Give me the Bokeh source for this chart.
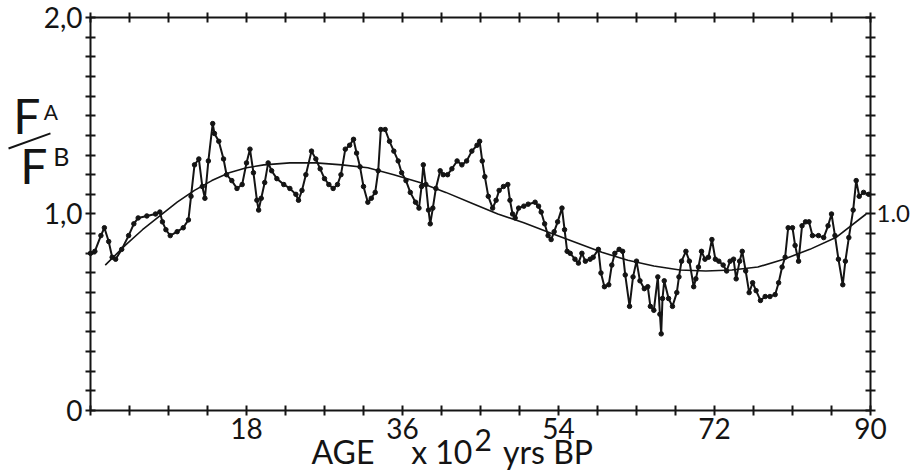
from bokeh.plotting import figure
from bokeh.models import (Range1d, LinearAxis, FixedTicker, CustomJSTickFormatter, Label)
from bokeh.embed import file_html
from bokeh.resources import INLINE

# ---- data (age in 10^2 yrs BP, ratio FA/FB) ----
age = [0.0, 0.5, 1.2, 1.6, 2.1, 2.5, 2.9, 3.6, 4.4, 5.0, 5.5, 6.5, 7.5, 8.0, 8.3, 8.7, 9.2, 10.0,
       10.7, 11.3, 11.6, 12.0, 12.5, 12.9, 13.2, 13.6, 14.1, 14.3, 14.8, 15.35, 15.7, 16.3, 16.9,
       17.5, 18.0, 18.4, 18.8, 19.2, 19.4, 19.7, 20.1, 20.5, 20.9, 21.5, 22.3, 23.0, 23.7, 24.0,
       24.4, 24.85, 25.5, 26.0, 26.5, 27.0, 27.5, 28.0, 28.5, 28.9, 29.4, 29.9, 30.35, 30.7, 31.1,
       31.5, 32.0, 32.4, 32.85, 33.2, 33.5, 34.0, 34.5, 35.0, 35.5, 35.9, 36.4, 36.9, 37.5, 37.9,
       38.2, 38.4, 38.7, 39.0, 39.2, 39.5, 39.85, 40.35, 40.7, 41.2, 41.7, 42.3, 42.85, 43.4, 44.0,
       44.6, 44.9, 45.2, 45.5, 45.9, 46.4, 46.8, 47.15, 47.65, 48.15, 48.4, 48.7, 49.0, 49.4, 50.0,
       50.5, 51.3, 51.7, 52.0, 52.4, 52.8, 53.15, 53.5, 53.9, 54.4, 54.7, 55.0, 55.35, 55.9, 56.3,
       56.7, 57.1, 57.65, 58.0, 58.6, 58.9, 59.3, 59.8, 60.15, 60.5, 61.0, 61.4, 61.7, 62.2, 62.6,
       63.0, 63.4, 63.9, 64.3, 64.6, 65.0, 65.46, 65.7, 65.85, 66.0, 66.2, 66.7, 67.15, 67.65, 67.9,
       68.2, 68.7, 69.1, 69.6, 69.85, 70.15, 70.5, 70.9, 71.3, 71.7, 72.1, 72.5, 73.0, 73.4, 73.8,
       74.2, 74.5, 74.9, 75.2, 75.6, 76.0, 76.4, 76.8, 77.3, 77.85, 78.4, 79.0, 79.4, 79.8, 80.15,
       80.5, 81.0, 81.3, 81.7, 82.1, 82.5, 82.9, 83.3, 84.0, 84.6, 85.1, 85.5, 85.9, 86.3, 86.8,
       87.1, 87.5, 88.0, 88.35, 88.7, 89.2, 89.8]
ratio = [0.80, 0.81, 0.89, 0.93, 0.86, 0.78, 0.77, 0.82, 0.89, 0.95, 0.98, 0.99, 1.00, 1.01, 0.96,
         0.92, 0.89, 0.91, 0.93, 0.97, 1.09, 1.25, 1.28, 1.14, 1.08, 1.27, 1.46, 1.41, 1.37, 1.28,
         1.20, 1.17, 1.13, 1.15, 1.26, 1.33, 1.21, 1.07, 1.02, 1.08, 1.16, 1.26, 1.22, 1.18, 1.15,
         1.13, 1.10, 1.07, 1.12, 1.20, 1.32, 1.28, 1.23, 1.18, 1.15, 1.13, 1.15, 1.20, 1.33, 1.35,
         1.38, 1.31, 1.24, 1.14, 1.06, 1.08, 1.11, 1.22, 1.43, 1.43, 1.37, 1.32, 1.27, 1.21, 1.17,
         1.11, 1.06, 1.03, 1.14, 1.25, 1.15, 1.02, 0.95, 1.03, 1.13, 1.22, 1.20, 1.20, 1.23, 1.27,
         1.25, 1.27, 1.32, 1.35, 1.37, 1.27, 1.19, 1.09, 1.03, 1.07, 1.12, 1.14, 1.15, 1.07, 1.00,
         0.98, 1.03, 1.04, 1.05, 1.06, 1.04, 1.01, 0.95, 0.89, 0.87, 0.91, 0.96, 1.03, 0.92, 0.81,
         0.80, 0.77, 0.75, 0.80, 0.76, 0.77, 0.78, 0.82, 0.70, 0.63, 0.64, 0.74, 0.80, 0.82, 0.81,
         0.69, 0.53, 0.68, 0.76, 0.66, 0.62, 0.63, 0.53, 0.51, 0.68, 0.49, 0.39, 0.57, 0.66, 0.57,
         0.53, 0.60, 0.68, 0.76, 0.81, 0.76, 0.63, 0.67, 0.73, 0.81, 0.77, 0.78, 0.87, 0.77, 0.76,
         0.74, 0.71, 0.76, 0.77, 0.67, 0.76, 0.81, 0.71, 0.60, 0.65, 0.61, 0.56, 0.58, 0.58, 0.59,
         0.65, 0.73, 0.78, 0.93, 0.93, 0.84, 0.76, 0.94, 0.96, 0.96, 0.89, 0.89, 0.88, 0.94, 1.00,
         0.89, 0.77, 0.64, 0.76, 0.88, 1.02, 1.17, 1.09, 1.11, 1.10]

fit_age = [1.7, 4, 6, 8, 10, 12, 14, 16, 18, 20, 23, 26, 29, 32, 35, 38, 41, 44, 47, 50, 53, 56,
           59, 62, 65, 68, 71, 74, 77, 80, 83, 86, 89.5]
fit_ratio = [0.74, 0.84, 0.92, 0.99, 1.06, 1.12, 1.17, 1.21, 1.235, 1.25, 1.26, 1.26, 1.25, 1.235,
             1.20, 1.16, 1.11, 1.055, 1.00, 0.955, 0.905, 0.855, 0.805, 0.765, 0.735, 0.715, 0.71,
             0.715, 0.73, 0.77, 0.82, 0.88, 1.00]

x_ticks = [0, 4.5, 9, 13.5, 18, 22.5, 27, 31.5, 36, 40.5, 45, 49.5, 54, 58.5, 63, 67.5, 72, 76.5,
           81, 85.5, 90]
y_ticks = [0, 0.1, 0.2, 0.3, 0.4, 0.5, 0.6, 0.7, 0.8, 0.9, 1.0, 1.1, 1.2, 1.3, 1.4, 1.5, 1.6,
           1.7, 1.8, 1.9, 2.0]
X_MIN, X_MAX = 0, 90
Y_MIN, Y_MAX = 0, 2.0

FONT = "Lato"
INK = "#141414"

# the frame spans the whole canvas; the axes sit at fixed data positions inside it
p = figure(width=912, height=474, output_backend="svg", toolbar_location=None,
           x_range=Range1d(-10.385, 94.846), y_range=Range1d(-0.3257, 2.0865),
           x_axis_location=None, y_axis_location=None,
           min_border=0)
p.grid.visible = False
p.outline_line_color = None
p.background_fill_color = "white"
p.border_fill_color = "white"

def style(ax):
    ax.axis_line_width = 2
    ax.axis_line_color = INK
    ax.major_tick_line_width = 2
    ax.major_tick_line_color = INK
    ax.major_tick_in = 5
    ax.major_tick_out = 5
    ax.minor_tick_line_color = None
    ax.major_label_text_font = FONT
    ax.major_label_text_color = INK
    ax.major_label_text_font_size = "28px"

bottom = LinearAxis(ticker=FixedTicker(ticks=x_ticks), fixed_location=Y_MIN,
                    bounds=(X_MIN, X_MAX),
                    formatter=CustomJSTickFormatter(code="""
const lab = [18, 36, 54, 72, 90];
return lab.some(v => Math.abs(v - tick) < 1e-6) ? String(Math.round(tick)) : "";"""))
style(bottom)
bottom.major_label_standoff = 3
p.add_layout(bottom, "below")

top = LinearAxis(ticker=FixedTicker(ticks=x_ticks), fixed_location=Y_MAX,
                 bounds=(X_MIN, X_MAX),
                 formatter=CustomJSTickFormatter(code='return "";'))
style(top)
p.add_layout(top, "above")

left = LinearAxis(ticker=FixedTicker(ticks=y_ticks), fixed_location=X_MIN,
                  bounds=(Y_MIN, Y_MAX),
                  formatter=CustomJSTickFormatter(code="""
if (Math.abs(tick) < 1e-6) return "0";
if (Math.abs(tick - 1) < 1e-6) return "1,0";
if (Math.abs(tick - 2) < 1e-6) return "2,0";
return "";"""))
style(left)
left.major_label_standoff = 3
p.add_layout(left, "left")

right = LinearAxis(ticker=FixedTicker(ticks=y_ticks), fixed_location=X_MAX,
                   bounds=(Y_MIN, Y_MAX),
                   formatter=CustomJSTickFormatter(code="""
return Math.abs(tick - 1) < 1e-6 ? "1.0" : "";"""))
style(right)
right.major_label_text_font_size = "24px"
right.major_label_standoff = 1
p.add_layout(right, "right")

# data series
p.line(fit_age, fit_ratio, line_color=INK, line_width=1.6)
p.line(age, ratio, line_color=INK, line_width=2)
p.scatter(age, ratio, size=4.5, fill_color=INK, line_color=INK)

def lab(text, x, y, size, **kw):
    p.add_layout(Label(x=x, y=y, text=text, text_font=FONT, text_color=INK,
                       text_font_size=size, text_baseline="middle", **kw))

# y-axis title F^A / F^B (fraction bar drawn as a short slanted stroke)
lab("F", -8.9, 1.499, "48px")
lab("A", -5.4, 1.524, "21px")
lab("F", -8.1, 1.247, "48px")
lab("B", -4.3, 1.293, "25px")
p.segment(x0=[-9.46], y0=[1.333], x1=[-4.62], y1=[1.41], line_color=INK, line_width=2)

# x-axis title
lab("AGE", 25.5, -0.209, "32px")
lab("x 10", 37.0, -0.209, "32px")
lab("2", 44.3, -0.150, "30px")
lab("yrs BP", 47.6, -0.209, "32px")

open("out.html", "w").write(file_html(p, INLINE))
